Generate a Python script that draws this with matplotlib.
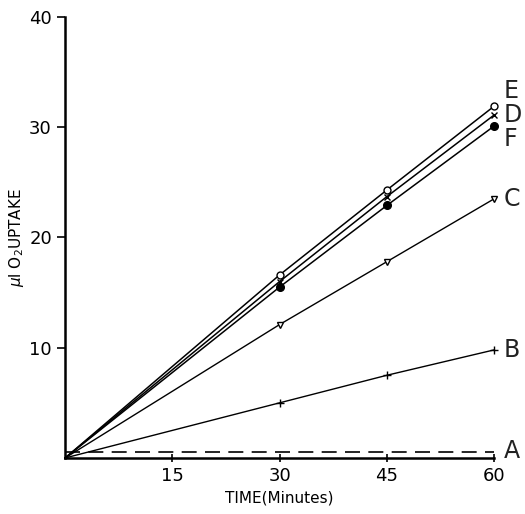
import matplotlib.pyplot as plt

# Data (time in minutes, ul O2 uptake)
time = [0, 30, 45, 60]
curve_e = [0, 16.6, 24.3, 31.9]
curve_d = [0, 16.0, 23.7, 31.1]
curve_f = [0, 15.5, 22.9, 30.1]
curve_c = [0, 12.1, 17.8, 23.5]
curve_b = [0, 5.0, 7.5, 9.8]
time_a = [0, 60]
curve_a = [0.5, 0.5]
labels = ['E', 'D', 'F', 'C', 'B', 'A']
label_y = [33.3, 31.1, 28.9, 23.5, 9.8, 0.6]

fig = plt.figure(figsize=(5.25, 5.14), dpi=100)
ax = fig.add_axes([0.124, 0.109, 0.817, 0.858])

# no marker at the origin
mk = [1, 2, 3]
ax.plot(time, curve_e, color='black', lw=1.1, marker='o', ms=5, mfc='white', mec='black',
        markevery=mk, clip_on=False)
ax.plot(time, curve_d, color='black', lw=1.1, marker='x', ms=4, markevery=mk, clip_on=False)
ax.plot(time, curve_f, color='black', lw=1.1, marker='o', ms=5.5, markevery=mk, clip_on=False)
ax.plot(time, curve_c, color='black', lw=1.0, marker='v', ms=5, mfc='white', mec='black',
        markevery=mk, clip_on=False)
ax.plot(time, curve_b, color='black', lw=1.0, marker='+', ms=6, markevery=mk, clip_on=False)
ax.plot(time_a, curve_a, color='black', lw=1.2, dashes=(9, 5), clip_on=False)

for lab, yy in zip(labels, label_y):
    ax.text(61.3, yy, lab, fontsize=17, va='center', ha='left', color='#222222')

ax.set_xlim(0, 60)
ax.set_ylim(0, 40)
ax.set_xticks([15, 30, 45, 60])
ax.set_yticks([10, 20, 30, 40])
ax.tick_params(axis='y', direction='out', length=6, width=1.2, labelsize=13)
ax.tick_params(axis='x', direction='inout', length=6, width=1.2, labelsize=13)
for s in ['top', 'right']:
    ax.spines[s].set_visible(False)
for s in ['left', 'bottom']:
    ax.spines[s].set_linewidth(1.8)

ax.set_xlabel('TIME(Minutes)', fontsize=11, labelpad=4)
ax.set_ylabel(r'$\mu$l O$_2$UPTAKE', fontsize=11, labelpad=2)

fig.savefig('out.png', dpi=100)
